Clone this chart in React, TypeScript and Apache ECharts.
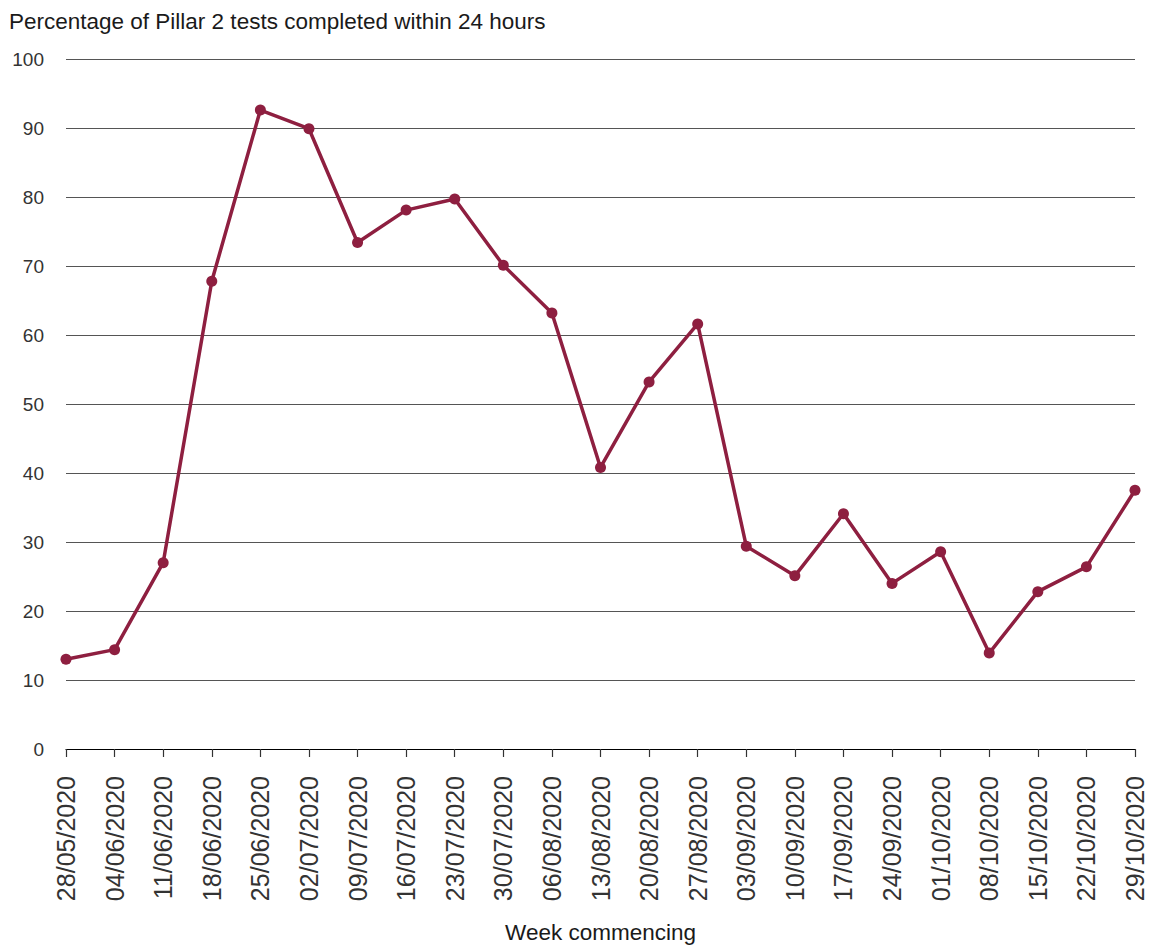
import React, { useEffect, useRef } from "react";
import * as echarts from "echarts";

const weeks = [
  "28/05/2020", "04/06/2020", "11/06/2020", "18/06/2020", "25/06/2020", "02/07/2020",
  "09/07/2020", "16/07/2020", "23/07/2020", "30/07/2020", "06/08/2020", "13/08/2020",
  "20/08/2020", "27/08/2020", "03/09/2020", "10/09/2020", "17/09/2020", "24/09/2020",
  "01/10/2020", "08/10/2020", "15/10/2020", "22/10/2020", "29/10/2020",
];

const pctWithin24h = [
  13.0, 14.4, 27.0, 67.8, 92.6, 89.9, 73.4, 78.1, 79.7, 70.1, 63.2, 40.8,
  53.2, 61.6, 29.4, 25.1, 34.1, 24.0, 28.6, 13.9, 22.8, 26.4, 37.5,
];

const titleText = "Percentage of Pillar 2 tests completed within 24 hours";
const xAxisTitle = "Week commencing";

const FONT = "'Liberation Sans', Arial, Helvetica, sans-serif";

export default function App() {
  const ref = useRef<HTMLDivElement>(null);

  useEffect(() => {
    if (!ref.current) return;
    const chart = echarts.init(ref.current, null, { renderer: "svg" });
    chart.setOption({
      animation: false,
      backgroundColor: "#ffffff",
      textStyle: { fontFamily: FONT },
      title: {
        text: titleText,
        left: 4,
        top: 5,
        textStyle: { fontFamily: FONT, fontSize: 22.5, fontWeight: "normal", color: "#1a1a1a" },
      },
      grid: { left: 66, right: 22, top: 59, bottom: 176, containLabel: false },
      xAxis: {
        type: "category",
        data: weeks,
        boundaryGap: false,
        name: xAxisTitle,
        nameLocation: "middle",
        nameGap: 172,
        nameTextStyle: { fontFamily: FONT, fontSize: 22.5, color: "#1a1a1a" },
        axisLine: { show: true, lineStyle: { color: "#000000", width: 1.2 } },
        axisTick: { show: true, length: 8, alignWithLabel: true, lineStyle: { color: "#333333", width: 1.2 } },
        axisLabel: {
          rotate: 90,
          margin: 27,
          interval: 0,
          fontFamily: FONT,
          fontSize: 25,
          color: "#333333",
        },
        splitLine: { show: false },
      },
      yAxis: {
        type: "value",
        min: 0,
        max: 100,
        interval: 10,
        axisLine: { show: false },
        axisTick: { show: false },
        axisLabel: { margin: 22, fontFamily: FONT, fontSize: 19, color: "#333333" },
        splitLine: { show: true, lineStyle: { color: "#555555", width: 1 } },
      },
      series: [
        {
          type: "line",
          data: pctWithin24h,
          symbol: "circle",
          symbolSize: 11,
          lineStyle: { color: "#8E1F40", width: 3.5 },
          itemStyle: { color: "#8E1F40" },
          z: 5,
        },
      ],
    });
    return () => chart.dispose();
  }, []);

  return (
    <div
      ref={ref}
      style={{ position: "fixed", left: 0, top: 0, width: 1157, height: 949, background: "#fff" }}
    />
  );
}
